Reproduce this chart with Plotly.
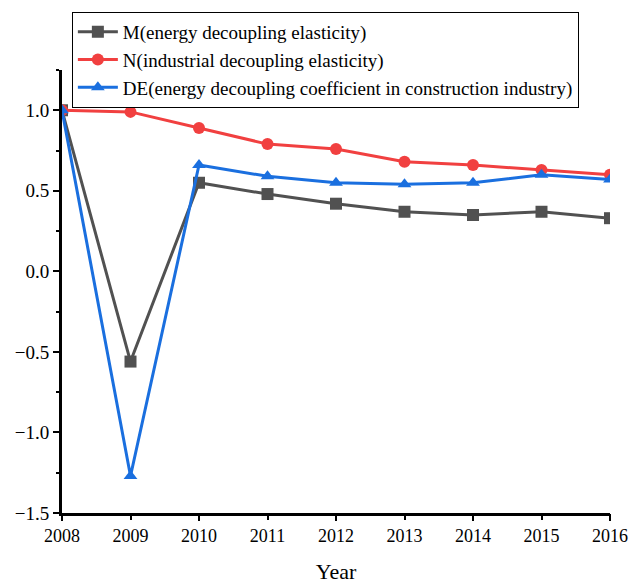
import plotly.graph_objects as go

years = [2008, 2009, 2010, 2011, 2012, 2013, 2014, 2015, 2016]
m_energy = [1.00, -0.56, 0.55, 0.48, 0.42, 0.37, 0.35, 0.37, 0.33]
n_industrial = [1.00, 0.99, 0.89, 0.79, 0.76, 0.68, 0.66, 0.63, 0.60]
de_construction = [1.00, -1.27, 0.66, 0.59, 0.55, 0.54, 0.55, 0.60, 0.57]

names = [
    "M(energy decoupling elasticity)",
    "N(industrial decoupling elasticity)",
    "DE(energy decoupling coefficient in construction industry)",
]
colors = ["#515151", "#F14040", "#1A6FDF"]
symbols = ["square", "circle", "triangle-up"]
y_ticks = [-1.5, -1.0, -0.5, 0.0, 0.5, 1.0]

font = "Liberation Serif"

fig = go.Figure()
for name, vals, col, sym in zip(names, [m_energy, n_industrial, de_construction], colors, symbols):
    fig.add_trace(go.Scatter(
        x=years, y=vals, name=name, mode="lines+markers",
        line=dict(color=col, width=3),
        marker=dict(symbol=sym, size=12, color=col),
    ))

# secondary axis only carries the longer ticks on even years
fig.add_trace(go.Scatter(x=[years[0]], y=[None], xaxis="x2", showlegend=False,
                         hoverinfo="skip", mode="lines"))

fig.update_layout(
    width=630, height=584,
    margin=dict(l=62, r=20, t=70, b=71, autoexpand=False),
    paper_bgcolor="white", plot_bgcolor="white",
    font=dict(family=font, color="black"),
    showlegend=True,
    legend=dict(
        x=0.018, y=1.131, xanchor="left", yanchor="top",
        bordercolor="black", borderwidth=1,
        font=dict(size=19, family=font), bgcolor="white",
        tracegroupgap=0, itemwidth=40,
    ),
    xaxis=dict(
        range=[2008, 2016], tickmode="array", tickvals=years,
        ticktext=[str(y) for y in years],
        ticks="outside", ticklen=4, tickwidth=2, tickcolor="black",
        showline=True, linecolor="black", linewidth=3,
        showgrid=False, zeroline=False, automargin=False,
        ticklabeloverflow="allow",
        tickfont=dict(size=18, family=font),
        title=dict(text="Year", font=dict(size=22, family=font), standoff=20),
    ),
    xaxis2=dict(
        range=[2008, 2016], overlaying="x", side="bottom",
        tickmode="array", tickvals=years[::2], showticklabels=False,
        ticks="outside", ticklen=7, tickwidth=2, tickcolor="black",
        showline=False, showgrid=False, zeroline=False, automargin=False,
    ),
    yaxis=dict(
        range=[-1.5, 1.25], tickmode="array", tickvals=y_ticks,
        ticktext=[f"{v:.1f}".replace("-", "\u2212") for v in y_ticks],
        ticks="outside", ticklen=6, tickwidth=2, tickcolor="black",
        minor=dict(dtick=0.25, tick0=0, ticks="outside", ticklen=3,
                   tickwidth=2, tickcolor="black"),
        showline=True, linecolor="black", linewidth=3,
        showgrid=False, zeroline=False, automargin=False,
        ticklabeloverflow="allow",
        tickfont=dict(size=19, family=font),
    ),
)

fig.write_html("out.html")
